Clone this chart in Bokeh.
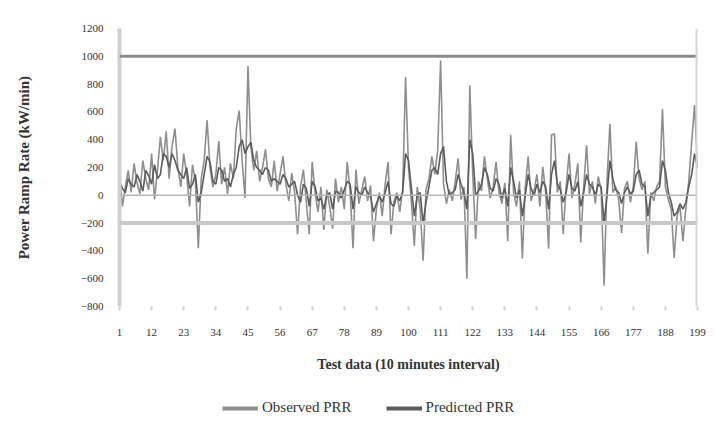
from bokeh.plotting import figure
from bokeh.layouts import column
from bokeh.models import Range1d, FixedTicker, Span, Legend, LegendItem, ColumnDataSource
from bokeh.embed import file_html
from bokeh.resources import INLINE

# ---------------- data ----------------
observed_prr = [
    150, -80, 60, 180, 20, 230, 90, 10, 250, 120,
    40, 300, -30, 180, 420, 250, 460, 120, 350, 480,
    200, 60,
    300, 150, -80, 220, 100, -380, 120, 250, 540, 200, 60,
    150, 390, 80, 200, 10, 230, 120, 480, 610, 250, -20,
    930, 350, 180, 320, 100, 200, 330, 120, 60,
    250, 30, 150, 280, 80, -40, 160, 20, -280, 60,
    185, -50, -280, 240, 20, -120, 60, -250, 40, -80,
    -240, 120, -50, 60, -100, 240, 30, -380, 185, -60,
    40, 135, -40, 70, -330, -100, 20, -150, 80, 240,
    -280, -50, 20, -120, 40, 850,
    200, -50, -365, 60, -100, -470, 40, 120, 280, 150,
    320, 970, 80, -60, 40, -40, 100, 265, -30, 60,
    -600, 790, 150, -315, 100, 30, 280, 120, -20, 60,
    240, 20, -60, 90, -330, 435, 20, -80, 100, -455,
    60, 280, -40, 30, 150, -80, 205, 20, -385, 435,
    440, 20, 100, -280, 60, 300, -20, 80, 230, -340,
    60, 360, 10, 100, -60, 135, 40, -650, 100, 515,
    20, 60, -30, -270, 50, 100, -50, 60, 385, 120,
    40, 100, -420, 20, -40, 60, 100, 620, 60, -30,
    -100, -450, -150, -80, -330, -100, 100, 380, 650, 200,
]
predicted_prr = [
    100, 50, 20, 120, 80, 60, 150, 100, 30, 180,
    140, 80, 220, 120, 150, 300, 280, 200, 300, 250,
    180, 150,
    120, 200, 50, 80, 150, -50, 20, 150, 280, 240, 100,
    80, 200, 180, 100, 120, 60, 150, 200, 350, 400, 300,
    350, 380, 250, 200, 180, 150, 200, 180, 100,
    120, 100, 80, 150, 120, 60, 80, 100, 0, -50,
    80, 50, -80, 100, 60, -40, -20, -100, 0, 20,
    -100, 30, 20, -20, 40, 100, 80, -100, 60, 20,
    0, 60, 20, -10, -120, -60, 0, -50, 20, 100,
    -60, -80, 0, -40, 20, 300,
    250, 50, -150, 0, 20, -200, -50, 60, 180, 200,
    150, 300, 350, 100, 0, 20, 40, 150, 80, 20,
    -100, 400, 300, 0, 30, 80, 200, 150, 50, 30,
    120, 80, -20, 50, -80, 200, 100, -20, 40, -150,
    0, 150, 50, 0, 80, 20, 100, 60, -100, 150,
    250, 80, 40, -50, 20, 150, 50, 30, 100, -80,
    20, 150, 80, 60, 0, 80, 60, -200, 0, 250,
    120, 40, 20, -60, 20, 60, 10, 30, 150, 180,
    80, 60, -150, 0, 20, 40, 60, 250, 180, 20,
    -50, -150, -120, -60, -100, -50, 60, 150, 300, 200,
]
x_ticks = [1, 12, 23, 34, 45, 56, 67, 78, 89, 100, 111, 122, 133, 144, 155, 166, 177, 188, 199]
y_ticks = [-800, -600, -400, -200, 0, 200, 400, 600, 800, 1000, 1200]
ref_lines = [1000, 0, -200]
series_names = ["Observed PRR", "Predicted PRR"]
series_colors = ["#8e8e8e", "#5c5c5c"]

obs_src = ColumnDataSource(dict(x=list(range(1, len(observed_prr) + 1)), y=observed_prr))
pred_src = ColumnDataSource(dict(x=list(range(1, len(predicted_prr) + 1)), y=predicted_prr))

FONT = "Liberation Serif"

p = figure(frame_width=578, frame_height=278, output_backend="svg", toolbar_location=None,
           x_range=Range1d(1, 199), y_range=Range1d(-800, 1200),
           min_border_left=119, min_border_right=10, min_border_top=28, min_border_bottom=72)
p.background_fill_color = "white"
p.border_fill_color = "white"
p.outline_line_color = None
p.xgrid.visible = False
p.ygrid.visible = False

# reference lines
p.add_layout(Span(location=ref_lines[0], dimension="width", line_color="#8a8a8a", line_width=3))
p.add_layout(Span(location=ref_lines[1], dimension="width", line_color="#b4b4b4", line_width=1.5))
p.add_layout(Span(location=ref_lines[2], dimension="width", line_color="#c8c8c8", line_width=4))
p.add_layout(Span(location=199, dimension="height", line_color="#d6d6d6", line_width=4))

p.line("x", "y", source=obs_src, line_color=series_colors[0], line_width=1.6)
p.line("x", "y", source=pred_src, line_color=series_colors[1], line_width=1.6)

# axes
p.yaxis.ticker = FixedTicker(ticks=y_ticks)
p.yaxis.axis_line_color = "#d0d0d0"
p.yaxis.axis_line_width = 4
p.yaxis.major_tick_line_color = None
p.yaxis.minor_tick_line_color = None
p.yaxis.major_label_text_font = FONT
p.yaxis.major_label_text_font_size = "11px"
p.yaxis.major_label_text_color = "#333333"
p.yaxis.major_label_standoff = 10
p.yaxis.axis_label = "Power Ramp Rate (kW/min)"
p.yaxis.axis_label_text_font = FONT
p.yaxis.axis_label_text_font_style = "bold"
p.yaxis.axis_label_text_font_size = "15px"
p.yaxis.axis_label_text_color = "#333333"
p.yaxis.axis_label_standoff = 46

p.xaxis.ticker = FixedTicker(ticks=x_ticks)
p.xaxis.axis_line_color = None
p.xaxis.major_tick_line_color = "#d0d0d0"
p.xaxis.major_tick_line_width = 2
p.xaxis.major_tick_out = 4
p.xaxis.major_tick_in = 0
p.xaxis.minor_tick_line_color = None
p.xaxis.major_label_text_font = FONT
p.xaxis.major_label_text_font_size = "11px"
p.xaxis.major_label_text_color = "#333333"
p.xaxis.major_label_standoff = 18
p.xaxis.axis_label = "Test data (10 minutes interval)"
p.xaxis.axis_label_text_font = FONT
p.xaxis.axis_label_text_font_style = "bold"
p.xaxis.axis_label_text_font_size = "14px"
p.xaxis.axis_label_text_color = "#333333"
p.xaxis.axis_label_standoff = 18

# legend strip below the chart (series lines drawn out of its view; only the legend shows)
leg = figure(width=707, height=50, output_backend="svg", toolbar_location=None,
             x_axis_type=None, y_axis_type=None, min_border=0,
             x_range=Range1d(5000, 5001), y_range=Range1d(5000, 5001))
leg.outline_line_color = None
leg.xgrid.visible = False
leg.ygrid.visible = False
g_obs = leg.line("x", "y", source=obs_src, line_color=series_colors[0], line_width=4)
g_pred = leg.line("x", "y", source=pred_src, line_color=series_colors[1], line_width=4)
legend = Legend(items=[LegendItem(label=series_names[0], renderers=[g_obs]),
                       LegendItem(label=series_names[1], renderers=[g_pred])],
                orientation="horizontal", location=(103, 12),
                label_text_font=FONT, label_text_font_size="15px", label_text_color="#333333",
                border_line_color=None, background_fill_alpha=0,
                glyph_width=36, glyph_height=16, label_standoff=4,
                spacing=34, margin=0, padding=0)
leg.add_layout(legend, "center")

open("out.html", "w").write(file_html(column(p, leg, spacing=0), INLINE))
